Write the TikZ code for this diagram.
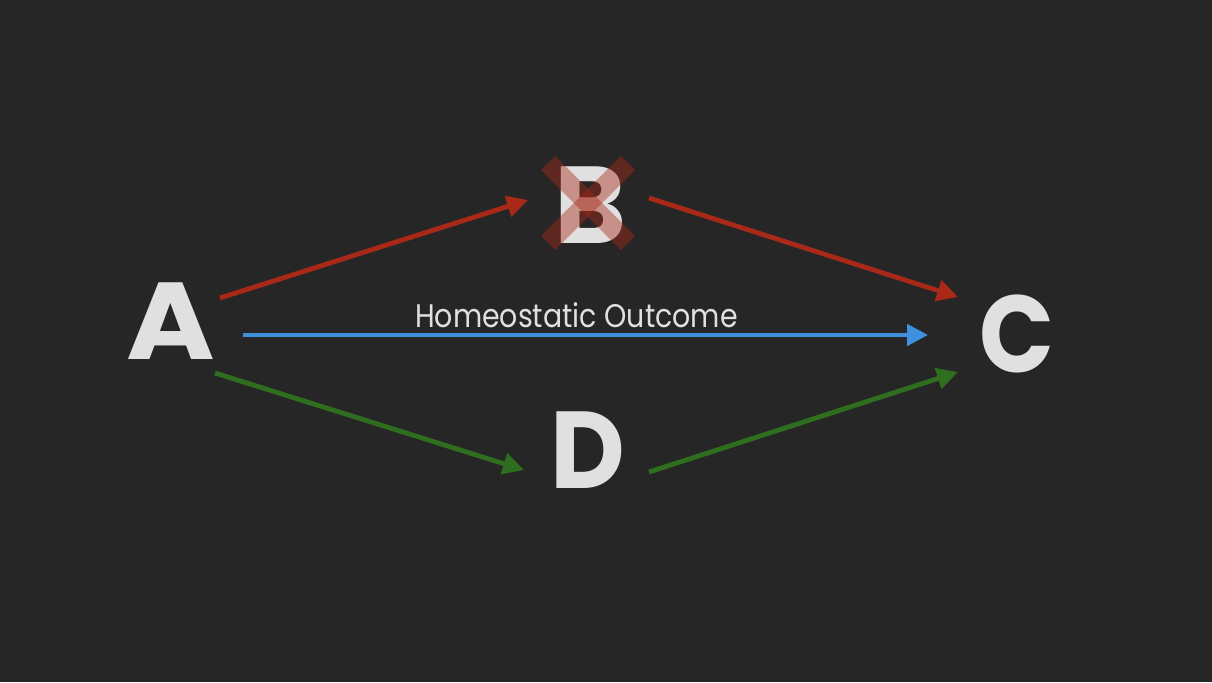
\documentclass[tikz,border=0pt]{standalone}
\usepackage{fontspec}
\usepackage{graphicx}
\setmainfont{Poppins}
\usetikzlibrary{arrows.meta}
\definecolor{bg}{RGB}{38,38,38}
\definecolor{letter}{RGB}{224,224,224}
\definecolor{ared}{RGB}{168,41,24}
\definecolor{agreen}{RGB}{46,110,30}
\definecolor{ablue}{RGB}{64,144,224}
\tikzset{
  big/.style={text=letter, inner sep=0pt, font=\fontsize{82}{82}\selectfont\bfseries},
  conn/.style={line width=3.6pt, -{Triangle[length=15.75pt,width=15.75pt]}},
  crossbar/.style={draw=ared, line width=15pt, line cap=butt, draw opacity=0.43}
}
\begin{document}
\begin{tikzpicture}[x=0.75pt,y=-0.75pt]
\fill[bg] (0,0) rectangle (1212,682);
\useasboundingbox (0,0) rectangle (1212,682);
\node[big] (a) at (171,321) {\scalebox{1.1}[1]{A}};
\node[big] (b) at (591,205) {B};
\node[big] (c) at (1017,334) {\scalebox{0.9}[1]{C}};
\node[big] (d) at (588,450) {\scalebox{0.94}[1]{D}};
\node[text=letter, inner sep=0pt, anchor=base, font=\fontsize{24.5}{24.5}\selectfont] (lbl) at (576.5,327) {\scalebox{0.87}[1]{Homeostatic Outcome}};
\coordinate (x1) at (548,163);
\coordinate (x2) at (628,243);
\coordinate (x3) at (628,163);
\coordinate (x4) at (548,243);
\draw[crossbar] (x1) -- (x2);
\draw[crossbar] (x3) -- (x4);
\coordinate (ab0) at (220,298);
\coordinate (ab1) at (528,200);
\coordinate (bc0) at (649,198);
\coordinate (bc1) at (958,297);
\coordinate (ac0) at (243,335);
\coordinate (ac1) at (928,335);
\coordinate (ad0) at (215,373);
\coordinate (ad1) at (524,470);
\coordinate (dc0) at (649,472);
\coordinate (dc1) at (958,372);
\draw[conn, ared] (ab0) -- (ab1);
\draw[conn, ared] (bc0) -- (bc1);
\draw[conn, ablue] (ac0) -- (ac1);
\draw[conn, agreen] (ad0) -- (ad1);
\draw[conn, agreen] (dc0) -- (dc1);
\end{tikzpicture}
\end{document}
